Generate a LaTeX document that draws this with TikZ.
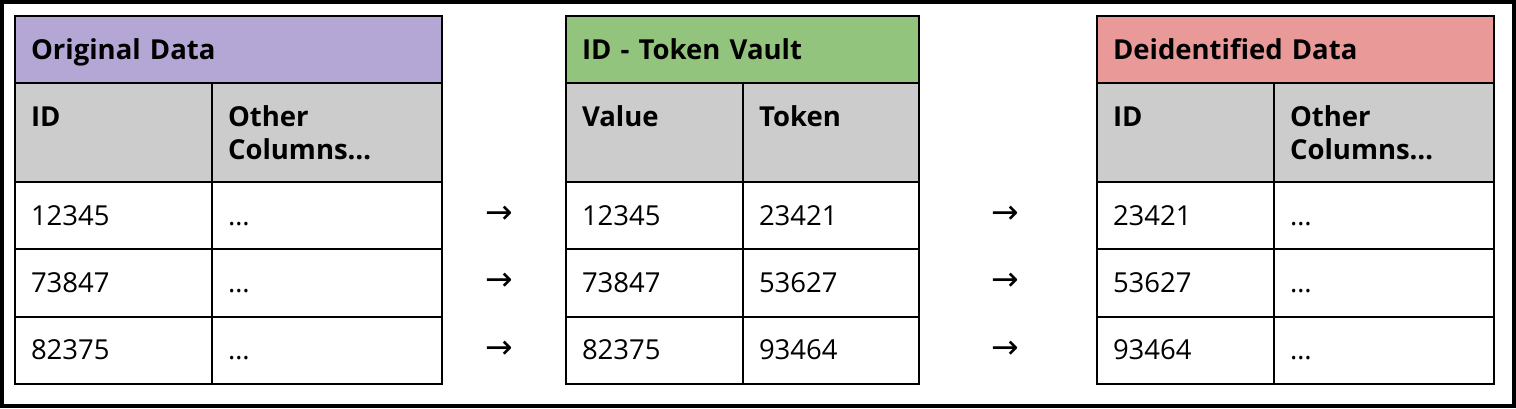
\documentclass[tikz,border=0pt]{standalone}
\usepackage{fontspec}
\setmainfont{Open Sans}
\newfontfamily\arrowfont{DejaVu Sans}

\definecolor{origpurple}{HTML}{B4A7D6}
\definecolor{vaultgreen}{HTML}{93C47D}
\definecolor{deidred}{HTML}{EA9999}
\definecolor{colgray}{HTML}{CCCCCC}

\begin{document}
\begin{tikzpicture}[x=1pt, y=-1pt]

    % Define styles
    \tikzset{
        cell/.style = {draw=black, line width=2pt, anchor=north west, inner xsep=16pt, inner ysep=0pt, align=left, text height=43pt, font=\fontsize{27.5}{33}\selectfont},
        title/.style = {cell, text depth=24pt, font=\fontsize{27.5}{33}\selectfont\bfseries},
        colhead/.style = {cell, fill=colgray, text depth=56pt, font=\fontsize{27.5}{33}\selectfont\bfseries},
        datacell/.style = {cell, text depth=24.33pt},
        flow/.style = {inner sep=0pt, font=\arrowfont\fontsize{33}{33}\selectfont}
    }

    % Frame
    \useasboundingbox (0,0) rectangle (1516,408);
    \draw [line width=4pt] (2,2) rectangle (1514,406);

    % Original data
    \node (orig-title) [title, fill=origpurple, text width=395pt] at (14,15) {Original Data};
    \node (orig-id) [colhead, text width=165pt] at (14,82) {ID};
    \node (orig-other) [colhead, text width=198pt] at (211,82) {\begin{tabular}[t]{@{}l@{}}Other\\Columns…\end{tabular}};

    % Token vault
    \node (vault-title) [title, fill=vaultgreen, text width=321pt] at (565,15) {ID - Token Vault};
    \node (vault-value) [colhead, text width=145pt] at (565,82) {Value};
    \node (vault-token) [colhead, text width=144pt] at (742,82) {Token};

    % Deidentified data
    \node (deid-title) [title, fill=deidred, text width=365pt] at (1096,15) {Deidentified Data};
    \node (deid-id) [colhead, text width=145pt] at (1096,82) {ID};
    \node (deid-other) [colhead, text width=188pt] at (1273,82) {\begin{tabular}[t]{@{}l@{}}Other\\Columns…\end{tabular}};

    % Rows
    \foreach \i/\y/\id/\tok in {1/181/12345/23421, 2/248.33/73847/53627, 3/315.67/82375/93464} {
        \node (orig-\i) [datacell, text width=165pt] at (14,\y) {\id};
        \node (orig-rest-\i) [datacell, text width=198pt] at (211,\y) {…};
        \node (flow-a\i) [flow] at (499.5,\y+33.67) {→};
        \node (vault-\i) [datacell, text width=145pt] at (565,\y) {\id};
        \node (vault-tok-\i) [datacell, text width=144pt] at (742,\y) {\tok};
        \node (flow-b\i) [flow] at (1005.5,\y+33.67) {→};
        \node (deid-\i) [datacell, text width=145pt] at (1096,\y) {\tok};
        \node (deid-rest-\i) [datacell, text width=188pt] at (1273,\y) {…};
    }
\end{tikzpicture}
\end{document}
